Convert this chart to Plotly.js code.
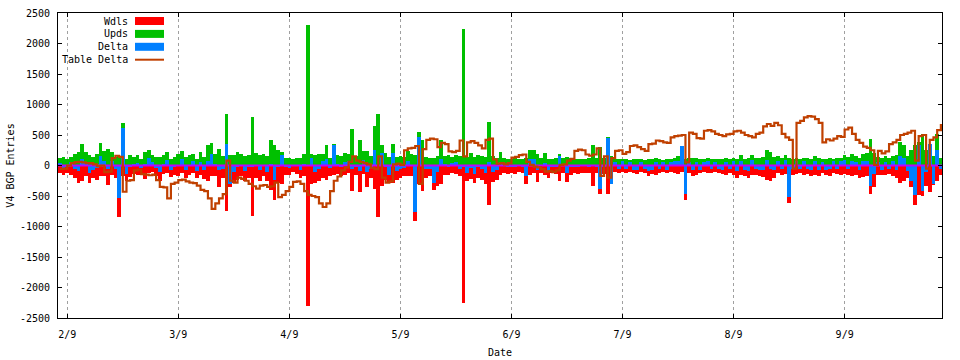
<!DOCTYPE html>
<html>
<head>
<meta charset="utf-8">
<script src="https://cdn.plot.ly/plotly-3.0.1.min.js"></script>
<style>html,body{margin:0;padding:0;background:#fff;}#chart{width:960px;height:360px;}</style>
</head>
<body>
<div id="chart"></div>
<script>
// Series names (legend)
const seriesNames = ["Wdls", "Upds", "Delta", "Table Delta"];

// Day offset of first sample relative to the "2/9" tick
const firstDay = -2;

// Tick labels (one every 30 days starting at day 0)
const xTickDays = [0, 30, 60, 90, 120, 150, 180, 210];
const xTickLabels = ["2/9", "3/9", "4/9", "5/9", "6/9", "7/9", "8/9", "9/9"];
const yTickVals = [-2500, -2000, -1500, -1000, -500, 0, 500, 1000, 1500, 2000, 2500];
const yTickLabels = ["-2500", "-2000", "-1500", "-1000", "-500", "0", "500", "1000", "1500", "2000", "2500"];

// Updates per day (positive)
const upds = [
  130,140,110,135,190,215,355,220,165,135,
  190,365,245,270,220,140,150,690,110,165,
  135,165,110,220,255,165,135,140,165,215,
  110,135,190,245,135,165,190,110,215,140,
  330,370,190,275,160,850,170,175,220,190,
  160,175,800,200,175,190,160,420,330,250,
  220,130,120,110,130,120,190,2300,190,175,
  185,185,330,130,355,170,150,200,185,600,
  150,410,230,245,150,655,850,330,200,140,
  355,140,150,140,245,190,180,550,410,140,
  130,120,150,410,160,170,140,180,150,2230,
  140,200,140,180,160,145,710,160,130,220,
  120,110,110,120,100,110,120,260,250,190,
  120,200,110,110,120,190,130,140,120,100,
  110,100,110,120,330,120,300,120,460,160,
  110,100,100,110,90,100,110,100,90,110,
  100,120,100,90,110,100,120,160,100,110,
  120,130,120,100,110,120,100,110,100,110,
  120,100,130,110,170,100,120,170,130,120,
  140,260,220,140,160,130,180,120,110,120,
  100,120,130,110,150,120,110,100,130,110,
  120,130,170,140,190,150,130,190,200,440,
  210,140,130,150,130,160,180,380,330,150,
  260,330,380,520,250,330,160,520,130
];

// Withdrawals per day (negative)
const wdls = [
  -130,-150,-120,-160,-200,-290,-250,-180,-280,-200,
  -230,-170,-180,-320,-150,-200,-840,-170,-260,-190,
  -140,-160,-150,-220,-130,-110,-170,-250,-140,-120,
  -190,-150,-180,-130,-210,-160,-120,-200,-150,-220,
  -250,-180,-170,-355,-210,-740,-350,-290,-230,-180,
  -250,-200,-820,-200,-250,-180,-260,-400,-570,-280,
  -300,-150,-160,-110,-140,-200,-170,-2300,-300,-280,
  -250,-200,-230,-170,-160,-140,-180,-150,-120,-410,
  -160,-440,-140,-350,-200,-390,-850,-330,-230,-290,
  -280,-230,-200,-180,-170,-180,-910,-300,-410,-200,
  -180,-400,-330,-300,-150,-160,-130,-140,-180,-2250,
  -260,-220,-280,-200,-240,-300,-650,-270,-235,-150,
  -120,-140,-130,-140,-110,-130,-300,-150,-130,-270,
  -120,-150,-200,-130,-140,-260,-120,-270,-150,-130,
  -140,-120,-120,-130,-330,-130,-470,-140,-460,-300,
  -110,-120,-110,-130,-100,-120,-140,-110,-120,-170,
  -140,-150,-120,-110,-130,-110,-120,-140,-110,-570,
  -130,-180,-150,-130,-110,-120,-130,-110,-120,-140,
  -150,-120,-150,-200,-160,-180,-210,-160,-150,-180,
  -190,-240,-250,-200,-130,-150,-140,-620,-150,-140,
  -130,-150,-140,-180,-150,-170,-130,-160,-170,-120,
  -140,-150,-140,-160,-170,-150,-200,-190,-180,-470,
  -350,-160,-150,-160,-140,-170,-200,-290,-250,-200,
  -350,-650,-480,-500,-330,-440,-320,-260,-160
];

// Net delta per day
const delta = [
  40,-40,-30,60,-50,-90,110,60,-120,-70,
  -40,150,70,-60,80,-60,-530,620,-140,-30,
  20,40,-40,30,120,50,-40,-110,30,90,
  -80,-20,10,110,-70,10,70,-90,60,-80,
  80,190,20,-80,-50,350,-300,-110,-20,10,
  -90,-30,-20,0,-80,10,-100,20,-240,-30,
  180,-20,-40,0,-10,-80,20,0,130,-110,
  -60,70,100,-40,340,30,-30,50,70,-60,
  -20,-90,90,-100,-50,260,0,210,-30,-150,
  200,-90,-50,-40,70,10,-770,460,0,-60,
  -50,-280,-100,110,30,-20,40,60,-50,-20,
  -130,-40,-140,-30,-60,-130,60,-100,-80,60,
  10,-30,-20,-30,10,-20,-170,110,110,-80,
  0,40,-90,-30,-20,160,20,-130,-30,-20,
  -30,-10,-10,-20,-10,-20,-380,-20,450,-300,
  60,-50,70,-60,50,-70,-80,60,-60,-90,
  -70,60,-60,50,-70,60,70,80,320,-460,
  60,-80,50,-70,60,70,-60,60,-50,-70,
  60,-60,70,-90,80,-80,-90,90,-60,-80,
  -70,90,-60,-80,80,-50,90,-520,-60,70,
  -60,70,-60,-80,70,-70,60,-80,-60,70,
  -60,70,90,-60,80,60,-80,70,80,-330,
  -140,60,-70,60,-60,70,-70,150,120,-90,
  -250,-480,330,-420,-100,350,-300,260,-60
];

// Cumulative table delta
const tableDelta = [
  -55,-50,0,40,55,60,50,40,40,20,
  -10,0,-110,-100,120,160,140,-430,-250,-240,
  -80,-70,-140,-150,-160,-150,-240,-350,-360,-540,
  -300,-280,-240,-230,-260,-280,-290,-330,-400,-420,
  -540,-710,-620,-540,-470,80,-250,-280,-200,-220,
  -250,-300,-340,-380,-330,-320,-350,-340,-280,-520,
  -480,-420,-350,-270,-260,-300,-420,-480,-500,-520,
  -620,-680,-620,-420,-250,-180,-80,-30,60,150,
  80,60,40,20,-40,-60,150,-200,-280,-260,
  20,30,10,250,280,290,320,-300,270,420,
  440,430,300,370,350,230,220,240,410,150,
  380,400,370,330,280,420,440,100,30,40,
  20,40,130,140,170,180,60,10,-20,-30,
  -60,-100,-90,-110,-80,10,20,80,110,240,
  260,250,180,160,180,280,-170,150,-200,120,
  240,250,190,220,320,330,300,270,240,350,
  360,410,400,380,370,460,480,490,500,50,
  540,520,450,440,570,580,560,520,500,480,
  510,520,560,570,540,500,480,460,520,540,
  640,680,650,700,660,520,460,420,-50,700,
  730,790,810,800,760,700,380,430,410,440,
  480,470,590,620,520,420,370,310,290,250,
  10,240,200,230,350,380,420,500,520,540,
  570,80,480,500,-50,420,460,580,680
];

const colors = ["#ff0000", "#00c000", "#0080ff", "#c04000"];
const zeroColor = "#c000ff";

const days = upds.map((_, i) => firstDay + i);
const xMin = -2.5, xMax = 236.3;

const FONT = "DejaVu Sans Mono, monospace";
const fs = 10;

const barTrace = (y, i) => ({
  type: "bar", x: days, y: y, name: seriesNames[i], width: 1,
  marker: {color: colors[i], line: {width: 0}}, showlegend: false, hoverinfo: "skip"
});

const traces = [
  barTrace(wdls, 0),
  barTrace(upds, 1),
  barTrace(delta, 2),
  {type: "scatter", mode: "lines", x: [xMin, xMax], y: [0, 0],
   line: {color: zeroColor, width: 2}, showlegend: false, hoverinfo: "skip"},
  {type: "scatter", mode: "lines", x: days, y: tableDelta, name: seriesNames[3],
   line: {color: colors[3], width: 2.2, shape: "hv"}, showlegend: false, hoverinfo: "skip"}
];

// Gnuplot-style key: text right-aligned, sample to the right
const W = 960, H = 360, mL = 58, mR = 18, mT = 13, mB = 42;
const px2x = p => (p - mL) / (W - mL - mR);
const px2y = p => (H - mB - p) / (H - mT - mB);
const keyTextRight = 130, keyS0 = 135, keyS1 = 164, keyY0 = 21, keyDy = 12.9;
const annotations = [], shapes = [];
seriesNames.forEach((nm, i) => {
  const cy = keyY0 + i * keyDy;
  annotations.push({xref: "paper", yref: "paper", x: px2x(keyTextRight), y: px2y(cy),
    xanchor: "right", yanchor: "middle", text: nm, showarrow: false,
    font: {family: FONT, size: fs, color: "#000"}});
  if (i < 3) {
    shapes.push({type: "rect", xref: "paper", yref: "paper",
      x0: px2x(keyS0), x1: px2x(keyS1), y0: px2y(cy - 4), y1: px2y(cy + 4),
      fillcolor: colors[i], line: {width: 0}});
  } else {
    shapes.push({type: "line", xref: "paper", yref: "paper",
      x0: px2x(keyS0), x1: px2x(keyS1), y0: px2y(cy), y1: px2y(cy),
      line: {color: colors[i], width: 2}});
  }
});

const layout = {
  width: W, height: H,
  margin: {l: mL, r: mR, t: mT, b: mB, pad: 0},
  paper_bgcolor: "#fff", plot_bgcolor: "#fff",
  barmode: "overlay", bargap: 0,
  showlegend: false,
  font: {family: FONT, size: fs, color: "#000"},
  xaxis: {
    range: [xMin, xMax], tickmode: "array", tickvals: xTickDays, ticktext: xTickLabels,
    ticks: "inside", ticklen: 4, tickcolor: "#000", tickwidth: 1,
    showline: true, linecolor: "#000", linewidth: 1, mirror: "ticks",
    showgrid: true, gridcolor: "#a0a0a0", griddash: "dot", gridwidth: 1,
    zeroline: false, ticklabelstandoff: 7,
    tickfont: {family: FONT, size: fs, color: "#000"},
    title: {text: "Date", font: {family: FONT, size: fs, color: "#000"}, standoff: 9}
  },
  yaxis: {
    range: [-2500, 2500], tickmode: "array", tickvals: yTickVals, ticktext: yTickLabels,
    ticks: "inside", ticklen: 4, tickcolor: "#000", tickwidth: 1,
    showline: true, linecolor: "#000", linewidth: 1, mirror: "ticks",
    showgrid: false, zeroline: false, ticklabelstandoff: 5,
    tickfont: {family: FONT, size: fs, color: "#000"},
    title: {text: "V4 BGP Entries", font: {family: FONT, size: fs, color: "#000"}, standoff: 3}
  },
  annotations: annotations,
  shapes: shapes
};

Plotly.newPlot("chart", traces, layout, {staticPlot: true, displayModeBar: false});
</script>
</body>
</html>
